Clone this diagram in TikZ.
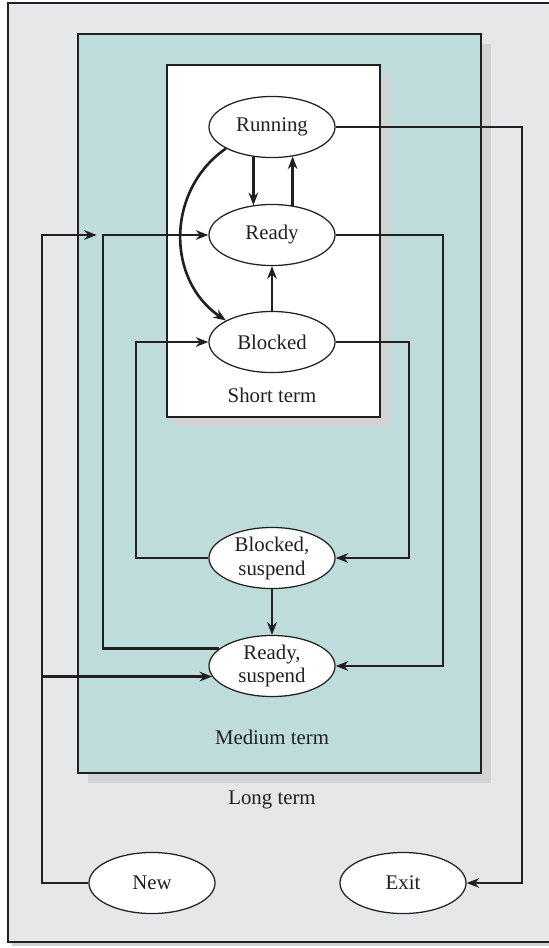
\documentclass[tikz,border=0pt]{standalone}
\usepackage{fontspec}
\setmainfont{Liberation Serif}
\usepackage{tikz}
\usetikzlibrary{arrows.meta,shapes}

\definecolor{longgray}{HTML}{E6E7E8}
\definecolor{medteal}{HTML}{BDDCDB}
\definecolor{dropgray}{HTML}{D1D3D4}
\definecolor{ink}{HTML}{231F20}

\begin{document}
\begin{tikzpicture}[x=0.48pt,y=-0.48pt,>={Stealth[length=6pt,width=4.6pt,inset=1.9pt]},
  state/.style={draw=ink,ellipse,fill=white,line width=0.6pt,minimum width=60.5pt,minimum height=29.3pt,inner sep=0pt,align=center,font=\fontsize{10}{11.5}\selectfont,text=ink},
  term/.style={font=\fontsize{10}{12}\selectfont,text=ink},
  frame/.style={draw=ink,line width=0.65pt},
  flow/.style={draw=ink,line width=1.25pt}]
\clip (0,0) rectangle (549,948);
% nested scheduling levels
\fill[dropgray] (12,7) rectangle (556,946);
\draw[frame,fill=longgray] (8,3) rectangle (552,942);
\fill[dropgray] (88,44) rectangle (491,783);
\draw[frame,fill=medteal] (78,34) rectangle (481,773);
\fill[dropgray] (177,75) rectangle (390,427);
\draw[frame,fill=white] (167,65) rectangle (380,417);
% states
\node[state] (run) at (272,127) {Running};
\node[state] (rdy) at (272,235) {Ready};
\node[state] (blk) at (272,342) {Blocked};
\node[term] (short) at (272,395) {Short term};
\node[state] (bsus) at (272,558) {Blocked,\\suspend};
\node[state] (rsus) at (272,666) {Ready,\\suspend};
\node[term] (medium) at (272,737) {Medium term};
\node[term] (long) at (272,800) {Long term};
\node[state] (new) at (152,883) {New};
\node[state] (exit) at (403,883) {Exit};
% vertical rails
\coordinate (railA) at (42,0);
\coordinate (railB) at (103,0);
\coordinate (railC) at (136,0);
\coordinate (railD) at (409,0);
\coordinate (railE) at (443,0);
\coordinate (railF) at (522,0);
% transitions
\draw[flow,->] (run.238) -- (rdy.122);
\draw[flow,->] (rdy.55) -- (run.305);
\draw[flow,->] (blk) -- (rdy);
\draw[flow,->] (run.205) .. controls (166,190) and (166,280) .. (blk.155);
\draw[flow,->] (run.east) -- (run.east -| railF) |- (exit.east);
\draw[flow,->] (rdy.east) -- (rdy.east -| railE) |- (rsus.east);
\draw[flow,->] (blk.east) -- (blk.east -| railD) |- (bsus.east);
\draw[flow,->] (bsus.west) -- (bsus.west -| railC) |- (blk.west);
\draw[flow,->] (bsus) -- (rsus);
\draw[flow,->] (rsus.162) -- (rsus.162 -| railB) |- (rdy.west);
\draw[flow,->] (new.west) -- (new.west -| railA) |- ([xshift=-3pt]railB |- rdy.west);
\draw[flow,->] (railA |- rsus.190) -- (rsus.190);
\end{tikzpicture}
\end{document}
